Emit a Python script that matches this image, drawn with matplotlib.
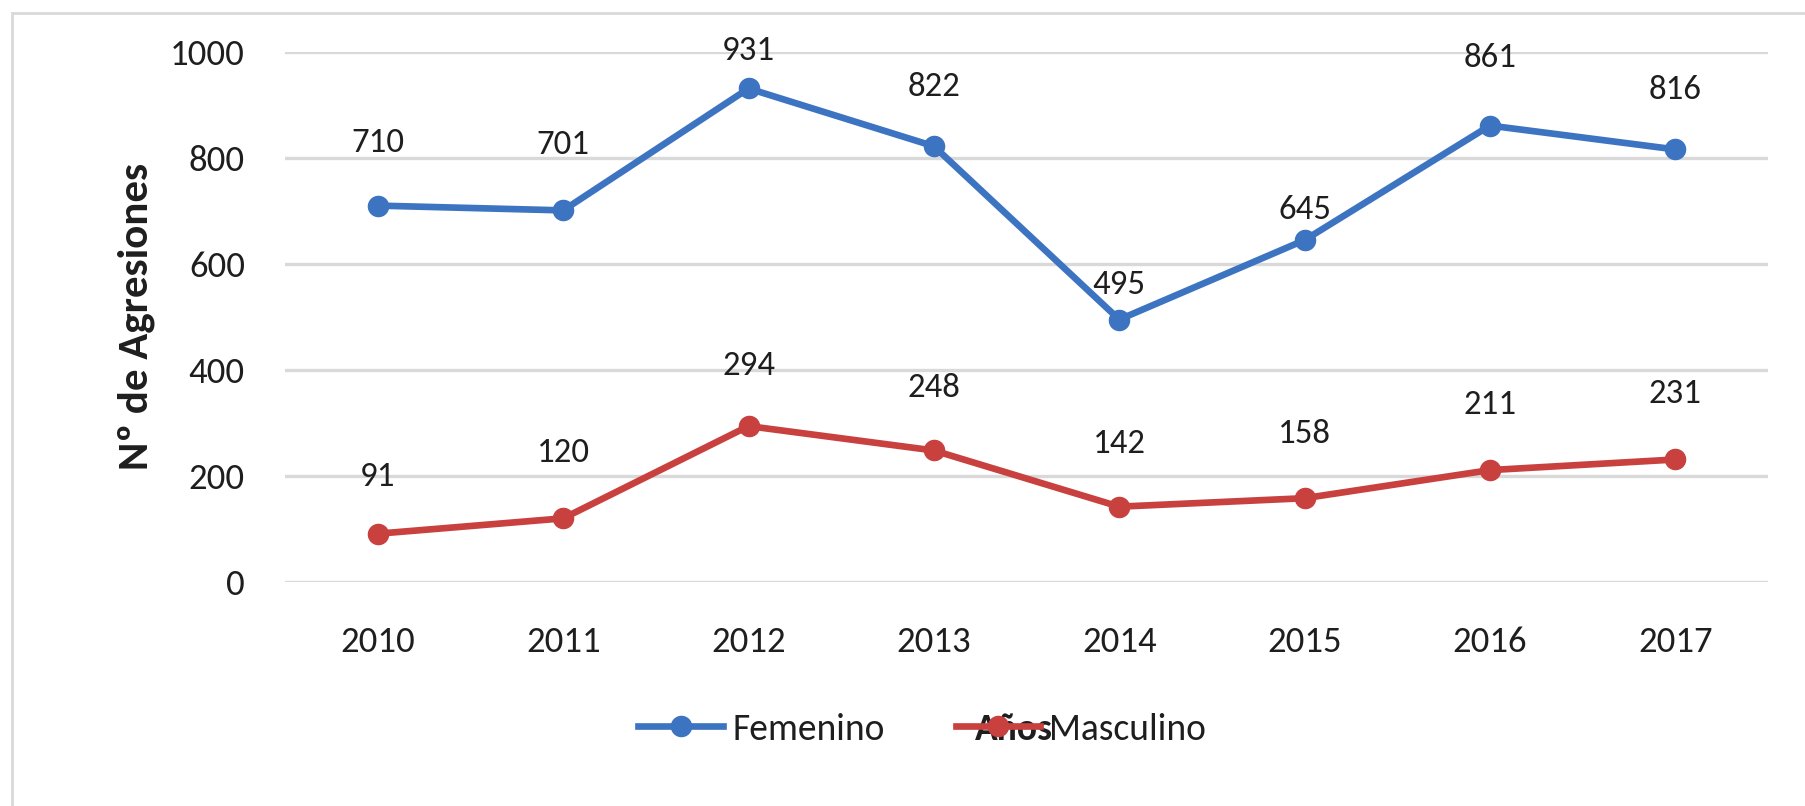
import matplotlib
matplotlib.use("Agg")
import matplotlib.pyplot as plt
from matplotlib.patches import Rectangle

# data
years = ["2010", "2011", "2012", "2013", "2014", "2015", "2016", "2017"]
femenino = [710, 701, 931, 822, 495, 645, 861, 816]
masculino = [91, 120, 294, 248, 142, 158, 211, 231]

# how far each value label sits above its point (points)
fem_offsets = [45, 47, 27, 43, 25, 22, 49, 43]
mas_offsets = [41, 47, 43, 45, 45, 46, 47, 47]

blue = "#3D74C2"
red = "#C8413F"
text_col = "#1E1E1E"
grid_col = "#D9D9D9"
font = "Carlito"

fig = plt.figure(figsize=(18.05, 8.06), dpi=100)
ax = fig.add_axes([0.158, 0.278, 0.8215, 0.6576])

x = list(range(len(years)))
ax.plot(x, femenino, color=blue, lw=4.8, marker="o", ms=14.5, label="Femenino",
        clip_on=False, zorder=3)
ax.plot(x, masculino, color=red, lw=4.8, marker="o", ms=14.5, label="Masculino",
        clip_on=False, zorder=3)

for xi, v, off in zip(x, femenino, fem_offsets):
    ax.annotate(str(v), (xi, v), xytext=(0, off), textcoords="offset points",
                ha="center", va="center", fontsize=25, color=text_col, family=font)
for xi, v, off in zip(x, masculino, mas_offsets):
    ax.annotate(str(v), (xi, v), xytext=(0, off), textcoords="offset points",
                ha="center", va="center", fontsize=25, color=text_col, family=font)

ax.set_xlim(-0.5, len(years) - 0.5)
ax.set_ylim(0, 1000)
ax.set_yticks([0, 200, 400, 600, 800, 1000])
ax.set_xticks(x)
ax.set_xticklabels(years)
ax.grid(axis="y", color=grid_col, lw=2.4)
ax.set_axisbelow(True)
for s in ax.spines.values():
    s.set_visible(False)
ax.tick_params(length=0, labelsize=26.5, colors=text_col)
ax.tick_params(axis="y", pad=29)
ax.tick_params(axis="x", pad=32)
for lab in ax.get_xticklabels() + ax.get_yticklabels():
    lab.set_family(font)

ax.set_ylabel("Nº de Agresiones", fontsize=31, fontweight="bold",
              color=text_col, family=font)
ax.yaxis.set_label_coords(-0.088, 0.5)

# legend, with the x title drawn on top of it as in the original
fig.legend(loc="center", bbox_to_anchor=(0.511, 0.0955), ncol=2, frameon=False,
           prop={"family": font, "size": 27}, labelcolor=text_col,
           handlelength=2.25, columnspacing=1.9, handletextpad=0.25)
fig.text(0.562, 0.0955, "Años", ha="center", va="center", fontsize=27,
         fontweight="bold", color=text_col, family=font)

# light frame around the chart area
fig.patches.append(Rectangle((12 / 1805, -0.1), 1.2, 1.1 - 13 / 806,
                             transform=fig.transFigure, fill=False,
                             edgecolor=grid_col, lw=2, zorder=0))

fig.savefig("out.png", dpi=100)
